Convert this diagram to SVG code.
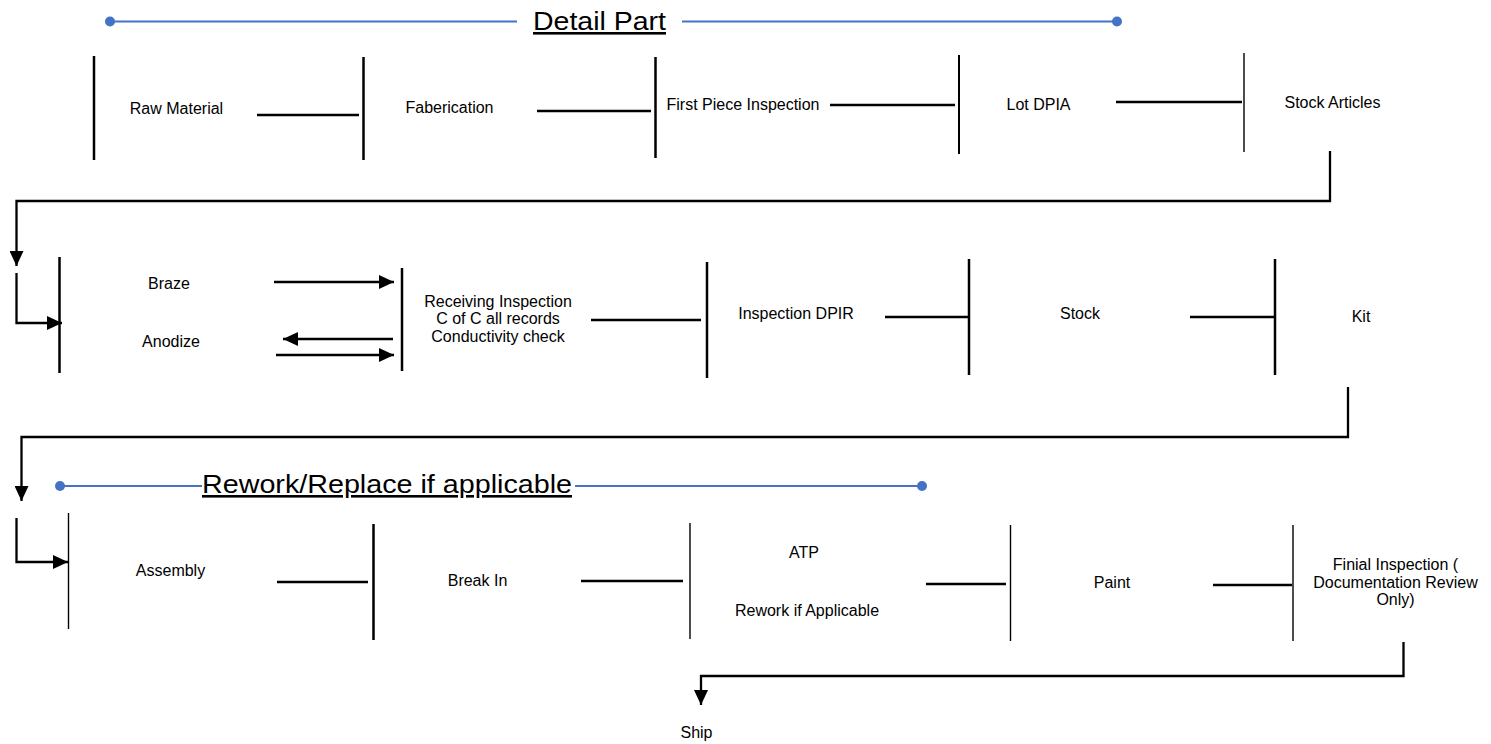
<svg xmlns="http://www.w3.org/2000/svg" width="1491" height="744" viewBox="0 0 1491 744">
<style>
  text { font-family: "Liberation Sans", Arial, sans-serif; font-size: 16px; fill: #000; text-anchor: middle; }
  .title { font-size: 26px; text-decoration: underline; }
  .bar { stroke: #000; stroke-width: 2.5; fill: none; }
  .thin { stroke: #000; stroke-width: 1.4; fill: none; }
  .link { stroke: #000; stroke-width: 2.3; fill: none; }
  .blue { stroke: #4472C4; stroke-width: 2; fill: none; }
  .dot { fill: #4472C4; }
</style>
<defs>
  <marker id="arr" markerUnits="userSpaceOnUse" markerWidth="15" markerHeight="14" refX="15" refY="7" orient="auto">
    <path d="M0,0 L15,7 L0,14 z" fill="#000"/>
  </marker>
</defs>
<rect width="1491" height="744" fill="#fff"/>

<g id="banner-detail">
  <line class="blue" x1="110" y1="21.5" x2="517" y2="21.5"/>
  <line class="blue" x1="682" y1="21.5" x2="1117" y2="21.5"/>
  <circle class="dot" cx="110" cy="21.5" r="5"/>
  <circle class="dot" cx="1117" cy="21.5" r="5"/>
  <text class="title" x="599.5" y="30" textLength="133" lengthAdjust="spacingAndGlyphs">Detail Part</text>
</g>

<g id="banner-rework">
  <line class="blue" x1="60" y1="486" x2="202" y2="486"/>
  <line class="blue" x1="575" y1="486" x2="922" y2="486"/>
  <circle class="dot" cx="60" cy="486" r="5"/>
  <circle class="dot" cx="922" cy="486" r="5"/>
  <text class="title" x="387" y="493" textLength="370" lengthAdjust="spacingAndGlyphs">Rework/Replace if applicable</text>
</g>

<g id="raw-material"><line class="bar" x1="94" y1="56" x2="94" y2="160"/><text x="176.5" y="114">Raw Material</text></g>
<g id="faberication"><line class="bar" x1="363.5" y1="57" x2="363.5" y2="160"/><text x="449.5" y="112.5">Faberication</text></g>
<g id="first-piece"><line class="bar" x1="655.5" y1="57" x2="655.5" y2="158"/><text x="743" y="110">First Piece Inspection</text></g>
<g id="lot-dpia"><line class="bar" x1="959" y1="55" x2="959" y2="154" style="stroke-width:2"/><text x="1038.5" y="109.5">Lot DPIA</text></g>
<g id="stock-articles"><line class="thin" x1="1244" y1="53" x2="1244" y2="152"/><text x="1332.5" y="107.5">Stock Articles</text></g>

<g id="braze-anodize"><line class="bar" x1="59.5" y1="257" x2="59.5" y2="373"/><text x="169" y="289">Braze</text><text x="171" y="347">Anodize</text></g>
<g id="receiving"><line class="bar" x1="402" y1="268" x2="402" y2="371"/><text x="498" y="306.5">Receiving Inspection</text><text x="498" y="324">C of C all records</text><text x="498" y="341.5">Conductivity check</text></g>
<g id="inspection-dpir"><line class="bar" x1="707" y1="262" x2="707" y2="378"/><text x="796" y="319">Inspection DPIR</text></g>
<g id="stock"><line class="bar" x1="969" y1="259" x2="969" y2="375"/><text x="1080" y="318.5">Stock</text></g>
<g id="kit"><line class="bar" x1="1275" y1="259" x2="1275" y2="375"/><text x="1361" y="322">Kit</text></g>

<g id="assembly"><line class="thin" x1="68.5" y1="513" x2="68.5" y2="629"/><text x="170.5" y="576">Assembly</text></g>
<g id="break-in"><line class="bar" x1="373.5" y1="524" x2="373.5" y2="640"/><text x="477.5" y="586">Break In</text></g>
<g id="atp"><line class="thin" x1="690" y1="523" x2="690" y2="639"/><text x="804" y="558">ATP</text><text x="807" y="615.5">Rework if Applicable</text></g>
<g id="paint"><line class="thin" x1="1010.5" y1="525" x2="1010.5" y2="641"/><text x="1112" y="587.5">Paint</text></g>
<g id="final-inspection"><line class="thin" x1="1293" y1="525" x2="1293" y2="641"/><text x="1395.5" y="570">Finial Inspection (</text><text x="1395.5" y="587.5">Documentation Review</text><text x="1395.5" y="605">Only)</text></g>
<g id="ship"><text x="696.5" y="738">Ship</text></g>

<g id="connectors">
  <line class="link" x1="257" y1="115" x2="359" y2="115"/>
  <line class="link" x1="537" y1="111" x2="651" y2="111"/>
  <line class="link" x1="830" y1="105" x2="955" y2="105"/>
  <line class="link" x1="1116" y1="102" x2="1242" y2="102"/>
  <polyline class="link" points="1330,151 1330,201 16.5,201 16.5,266" marker-end="url(#arr)"/>
  <polyline class="link" points="16.5,273 16.5,323 62,323" marker-end="url(#arr)"/>

  <line class="link" x1="274" y1="282" x2="394" y2="282" marker-end="url(#arr)"/>
  <line class="link" x1="393" y1="339" x2="283" y2="339" marker-end="url(#arr)"/>
  <line class="link" x1="276" y1="355" x2="394" y2="355" marker-end="url(#arr)"/>
  <line class="link" x1="591" y1="320" x2="701" y2="320"/>
  <line class="link" x1="885" y1="317" x2="968" y2="317"/>
  <line class="link" x1="1190" y1="317" x2="1274" y2="317"/>
  <polyline class="link" points="1348,387 1348,437 21.5,437 21.5,501" marker-end="url(#arr)"/>
  <polyline class="link" points="16.5,518 16.5,562 68,562" marker-end="url(#arr)"/>

  <line class="link" x1="277" y1="582" x2="368" y2="582"/>
  <line class="link" x1="581" y1="581" x2="683" y2="581"/>
  <line class="link" x1="926" y1="584" x2="1006" y2="584"/>
  <line class="link" x1="1213" y1="585" x2="1292" y2="585"/>
  <polyline class="link" points="1403.5,642 1403.5,676 701,676 701,705" marker-end="url(#arr)"/>
</g>
</svg>
